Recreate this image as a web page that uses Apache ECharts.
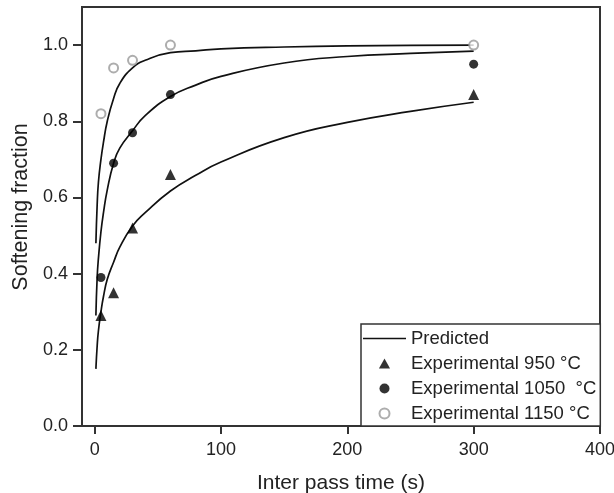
<!DOCTYPE html>
<html lang="en" style="height: 100%">
<head>
    <meta charset="utf-8">
</head>
<body style="height: 100%; margin: 0">
<div id="container" style="height: 100%"></div>

<script type="text/javascript" src="https://fastly.jsdelivr.net/npm/echarts@6.0.0/dist/echarts.min.js"></script>

<script type="text/javascript">
    // measured points (inter pass time in s, softening fraction)
    const expTime = [5, 15, 30, 60, 300];
    const exp950 = [0.29, 0.35, 0.52, 0.66, 0.87];
    const exp1050 = [0.39, 0.69, 0.77, 0.87, 0.95];
    const exp1150 = [0.82, 0.94, 0.96, 1.0, 1.0];

    // predicted curves
    const predTime = [1, 2, 3, 5, 7, 10, 15, 20, 30, 40, 60, 80, 100, 150, 200, 250, 300];
    const pred950 = [0.15, 0.21, 0.25, 0.30, 0.34, 0.385, 0.43, 0.47, 0.525, 0.56, 0.617, 0.658, 0.693, 0.757, 0.797, 0.826, 0.85];
    const pred1050 = [0.29, 0.39, 0.44, 0.51, 0.56, 0.62, 0.69, 0.73, 0.775, 0.815, 0.865, 0.895, 0.918, 0.953, 0.97, 0.978, 0.984];
    const pred1150 = [0.48, 0.58, 0.64, 0.70, 0.745, 0.80, 0.86, 0.90, 0.94, 0.96, 0.98, 0.985, 0.99, 0.995, 0.998, 0.999, 1.0];

    const xTicks = [0, 100, 200, 300, 400];
    const yTicks = [0, 0.2, 0.4, 0.6, 0.8, 1.0];

    var dom = document.getElementById('container');
    var myChart = echarts.init(dom, null, { renderer: 'canvas' });

    function pairs(xs, ys) {
        return xs.map(function (x, i) { return [x, ys[i]]; });
    }

    const font = 'Liberation Sans, Arial, sans-serif';
    const ink = '#222';

    function predSeries(values) {
        return {
            name: 'Predicted',
            type: 'line',
            symbol: 'none',
            smooth: 0.5,
            lineStyle: { color: '#111', width: 1.7 },
            itemStyle: { color: '#111' },
            data: pairs(predTime, values),
            z: 2
        };
    }

    var option = {
        animation: false,
        textStyle: { fontFamily: font },
        grid: {
            left: 82, right: 14, top: 7, bottom: 67,
            outerBoundsMode: 'none',
            show: true, borderColor: '#333', borderWidth: 2
        },
        legend: {
            orient: 'vertical',
            left: 361,
            top: 324,
            padding: [5, 4, 3, 2],
            itemWidth: 43,
            itemHeight: 10,
            itemGap: 6,
            borderColor: '#333',
            borderWidth: 1.5,
            backgroundColor: '#fff',
            textStyle: { fontSize: 18.5, color: ink, fontFamily: font, lineHeight: 18 },
            data: [
                { name: 'Predicted', icon: 'path://M0,0 L43,0 L43,1.7 L0,1.7 Z', symbolKeepAspect: true },
                { name: 'Experimental 950 °C', icon: 'path://M5,0 L10,9 L0,9 Z', symbolKeepAspect: true },
                { name: 'Experimental 1050  °C', icon: 'circle', symbolKeepAspect: true },
                { name: 'Experimental 1150 °C', icon: 'emptyCircle', symbolKeepAspect: true }
            ]
        },
        xAxis: {
            type: 'value',
            min: -10,
            max: 400,
            name: 'Inter pass time (s)',
            nameLocation: 'middle',
            nameGap: 47,
            nameTextStyle: { fontSize: 21, color: ink, fontFamily: font },
            axisLine: { onZero: false, lineStyle: { color: '#333', width: 2 } },
            axisTick: { customValues: xTicks, length: 8, lineStyle: { color: '#333', width: 2 } },
            axisLabel: { customValues: xTicks, fontSize: 18, color: ink, margin: 15 },
            splitLine: { show: false }
        },
        yAxis: {
            type: 'value',
            min: 0,
            max: 1.1,
            axisLine: { show: true, onZero: false, lineStyle: { color: '#333', width: 2 } },
            axisTick: { show: true, customValues: yTicks, length: 9, lineStyle: { color: '#333', width: 2 } },
            axisLabel: {
                customValues: yTicks, fontSize: 18, color: ink, margin: 14,
                formatter: function (v) { return v.toFixed(1); }
            },
            splitLine: { show: false }
        },
        graphic: [{
            type: 'text',
            x: 21,
            y: 207,
            rotation: Math.PI / 2,
            style: {
                text: 'Softening fraction',
                fontSize: 21.5,
                fontFamily: font,
                fill: ink,
                align: 'center',
                verticalAlign: 'middle'
            }
        }],
        series: [
            predSeries(pred950),
            predSeries(pred1050),
            predSeries(pred1150),
            {
                name: 'Experimental 950 °C',
                type: 'scatter',
                symbol: 'triangle',
                symbolSize: 11,
                itemStyle: { color: '#000' },
                data: pairs(expTime, exp950),
                z: 3
            },
            {
                name: 'Experimental 1050  °C',
                type: 'scatter',
                symbol: 'circle',
                symbolSize: 9,
                itemStyle: { color: '#000' },
                data: pairs(expTime, exp1050),
                z: 3
            },
            {
                name: 'Experimental 1150 °C',
                type: 'scatter',
                symbol: 'emptyCircle',
                symbolSize: 9,
                itemStyle: { color: '#999', borderWidth: 1 },
                data: pairs(expTime, exp1150),
                z: 3
            }
        ]
    };

    myChart.setOption(option);
    window.addEventListener('resize', myChart.resize);
</script>
</body>
</html>
